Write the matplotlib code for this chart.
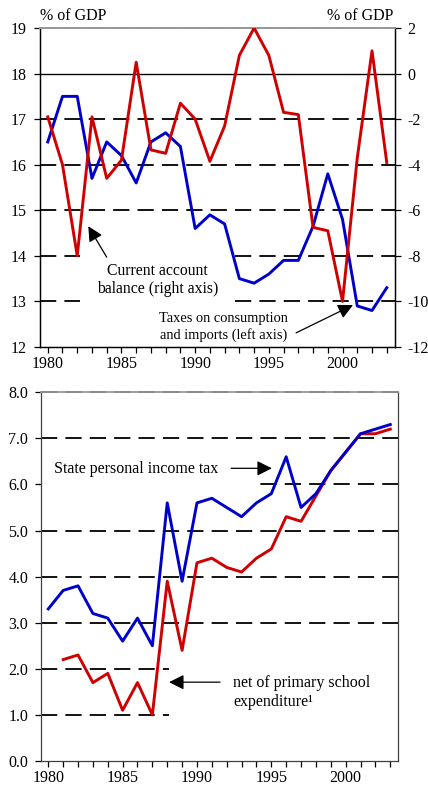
import matplotlib
matplotlib.use("Agg")
import matplotlib.pyplot as plt
from matplotlib.patches import Rectangle

plt.rcParams["font.family"] = ["Liberation Serif", "DejaVu Serif"]
plt.rcParams["axes.unicode_minus"] = False

# ---- upper panel: taxes on consumption and imports vs current account ----
years_top = list(range(1980, 2004))
consumption_taxes = [16.5, 17.5, 17.5, 15.7, 16.5, 16.2, 15.6, 16.5, 16.7, 16.4,
                     14.6, 14.9, 14.7, 13.5, 13.4, 13.6, 13.9, 13.9, 14.65, 15.8,
                     14.8, 12.9, 12.8, 13.3]
current_account = [-1.9, -4.0, -8.0, -1.9, -4.6, -3.8, 0.5, -3.35, -3.5, -1.3,
                   -2.0, -3.85, -2.3, 0.8, 2.0, 0.8, -1.7, -1.8, -6.75, -6.9,
                   -10.0, -3.7, 1.0, -3.9]

# ---- lower panel: state personal income tax ----
years_bot = list(range(1980, 2004))
income_tax = [3.3, 3.7, 3.8, 3.2, 3.1, 2.6, 3.1, 2.5, 5.6, 3.9,
              5.6, 5.7, 5.5, 5.3, 5.6, 5.8, 6.6, 5.5, 5.8, 6.3,
              6.7, 7.1, 7.2, 7.3]
years_net = list(range(1981, 2004))
income_tax_net = [2.2, 2.3, 1.7, 1.9, 1.1, 1.7, 1.0, 3.9, 2.4,
                  4.3, 4.4, 4.2, 4.1, 4.4, 4.6, 5.3, 5.2, 5.75, 6.3,
                  6.7, 7.1, 7.1, 7.2]

left_ticks_top = list(range(12, 20))
right_ticks_top = list(range(-12, 3, 2))
left_ticks_bot = [0.0, 1.0, 2.0, 3.0, 4.0, 5.0, 6.0, 7.0, 8.0]
year_labels = [1980, 1985, 1990, 1995, 2000]

RED = "#d00000"
BLUE = "#0000cc"
FS = 11.5

fig = plt.figure(figsize=(4.28, 7.85), dpi=100)
ax = fig.add_axes([0.0923, 0.5580, 0.8306, 0.4063])
ax2 = ax.twinx()
axb = fig.add_axes([0.0951, 0.0306, 0.8355, 0.4697])


def style_x(a, xlo, xhi):
    a.set_xlim(xlo, xhi)
    a.set_xticks(year_labels)
    a.set_xticks(range(1980, 2004), minor=True)
    a.tick_params(axis="x", which="both", direction="out", length=4, width=0.9,
                  labelsize=FS, pad=2.5)


def dashed_grid(a, values, skip=(), solid=()):
    for v in values:
        if v in skip:
            continue
        if v in solid:
            a.axhline(v, color="black", lw=1.0, zorder=1)
        else:
            a.axhline(v, color="black", lw=1.3, ls=(0, (9, 4.5)), zorder=1,
                      clip_on=False)


# upper panel
style_x(ax, 1979.44, 2003.56)
ax.set_ylim(12, 19)
ax.set_yticks(left_ticks_top)
ax.tick_params(axis="y", direction="out", length=4, width=0.9, labelsize=FS, pad=5)
ax2.set_ylim(-12, 2)
ax2.set_yticks(right_ticks_top)
ax2.tick_params(axis="y", direction="out", length=4, width=0.9, labelsize=FS, pad=5)
for a in (ax, ax2):
    a.spines["top"].set_color("0.6")
    a.spines["top"].set_linewidth(1.3)
    for s in ("left", "right", "bottom"):
        a.spines[s].set_linewidth(0.9)

dashed_grid(ax, left_ticks_top, skip=(12,), solid=(18,))
ax.add_patch(Rectangle((1982.19, 12.9), 9.95, 1.2, facecolor="white",
                       edgecolor="none", zorder=1.5))

ax.plot(years_top, consumption_taxes, color=BLUE, lw=2.1, zorder=3)
ax2.plot(years_top, current_account, color=RED, lw=2.1, zorder=3)

ax.text(1987.45, 13.47, "Current account\nbalance (right axis)", ha="center",
        va="center", fontsize=11.3, linespacing=1.2, zorder=4)
ax.text(1991.9, 12.44, "Taxes on consumption\nand imports (left axis)", ha="center",
        va="center", fontsize=10.4, linespacing=1.25, zorder=4)
arrow = dict(arrowstyle="-|>,head_length=0.9,head_width=0.45", color="black",
             lw=0.9, shrinkA=0, shrinkB=0)
ax.annotate("", xy=(1982.75, 14.65), xytext=(1984.0, 13.97), arrowprops=arrow,
            zorder=4)
ax.annotate("", xy=(2000.71, 12.92), xytext=(1996.85, 12.31), arrowprops=arrow,
            zorder=4)

fig.text(0.0923, 0.9795, "% of GDP", ha="left", va="center", fontsize=FS)
fig.text(0.9195, 0.9795, "% of GDP", ha="right", va="center", fontsize=FS)

# lower panel
style_x(axb, 1979.49, 2003.54)
axb.set_ylim(0, 8)
axb.set_yticks(left_ticks_bot)
axb.set_yticklabels([f"{v:.1f}" for v in left_ticks_bot])
axb.tick_params(axis="y", direction="out", length=4, width=0.9, labelsize=FS, pad=5)
axb.spines["top"].set_color("0.6")
axb.spines["top"].set_linewidth(1.3)
for s in ("left", "right", "bottom"):
    axb.spines[s].set_linewidth(0.9)
    axb.spines[s].set_color("0.25")

dashed_grid(axb, left_ticks_bot, skip=(0.0,))
axb.add_patch(Rectangle((1979.49, 5.85), 14.4, 0.3, facecolor="white",
                        edgecolor="none", zorder=1.5))
axb.add_patch(Rectangle((1988.1, 0.9), 15.44, 1.2, facecolor="white",
                        edgecolor="none", zorder=1.5))

axb.plot(years_net, income_tax_net, color=RED, lw=2.1, zorder=3)
axb.plot(years_bot, income_tax, color=BLUE, lw=2.1, zorder=3.1)

axb.text(1980.4, 6.33, "State personal income tax", ha="left", va="center",
         fontsize=FS, zorder=4)
axb.annotate("", xy=(1995.04, 6.35), xytext=(1992.29, 6.35), arrowprops=arrow,
             zorder=4)
axb.text(1992.42, 1.485, "net of primary school\nexpenditure\u00b9", ha="left",
         va="center", fontsize=FS, linespacing=1.25, zorder=4)
axb.annotate("", xy=(1988.12, 1.71), xytext=(1991.55, 1.71), arrowprops=arrow,
             zorder=4)

fig.savefig("out.png", dpi=100)
